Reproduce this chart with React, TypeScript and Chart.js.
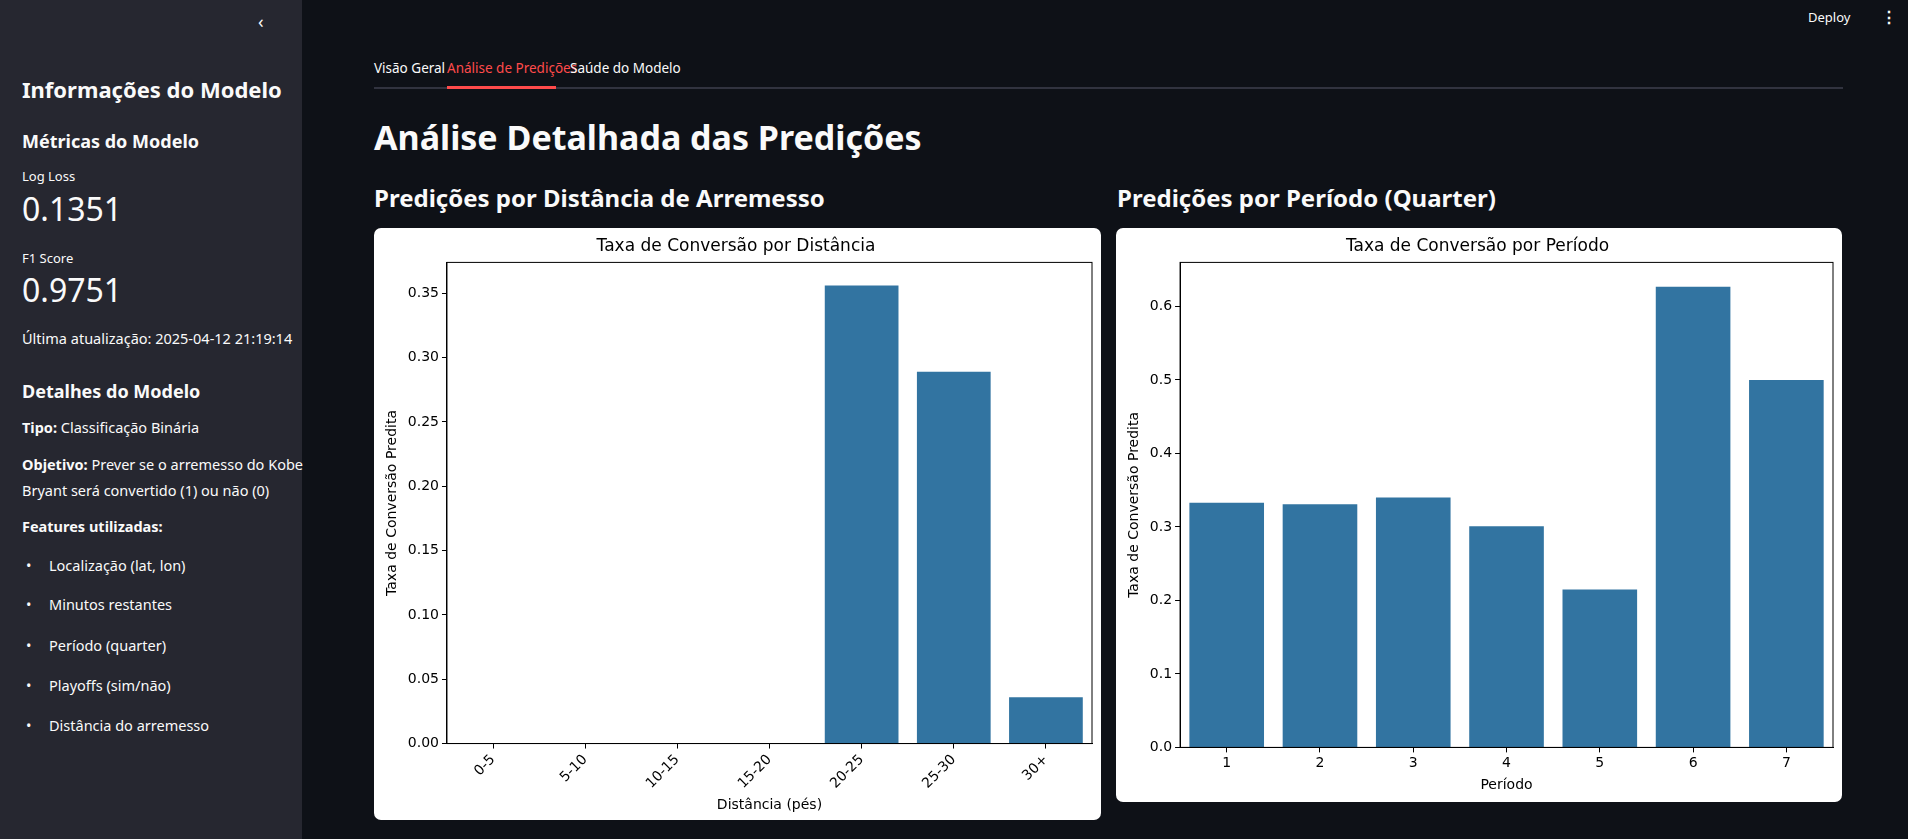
import { useEffect, useRef } from "react";
import Chart, { ChartConfiguration } from "chart.js/auto";

const distLabels = ["0-5", "5-10", "10-15", "15-20", "20-25", "25-30", "30+"];
const distValues = [0, 0, 0, 0, 0.356, 0.289, 0.036];
const periodLabels = ["1", "2", "3", "4", "5", "6", "7"];
const periodValues = [0.333, 0.331, 0.34, 0.301, 0.215, 0.627, 0.5];
const featureList = [
  "Localização (lat, lon)",
  "Minutos restantes",
  "Período (quarter)",
  "Playoffs (sim/não)",
  "Distância do arremesso",
];

const UI = "'Noto Sans', 'Open Sans', sans-serif";
const MPL = "'DejaVu Sans', sans-serif";

// box around the plot area, like matplotlib spines
const spines = {
  id: "spines",
  afterDraw(chart: Chart) {
    const { ctx, chartArea: a } = chart;
    ctx.save();
    ctx.strokeStyle = "#000";
    ctx.lineWidth = 1;
    ctx.strokeRect(a.left, a.top, a.right - a.left, a.bottom - a.top);
    ctx.restore();
  },
};

type BarProps = {
  labels: string[];
  values: number[];
  title: string;
  xTitle: string;
  max: number;
  step: number;
  decimals: number;
  rotate: number;
  pad: { left: number; right: number; top: number; bottom: number };
};

const BarChart = ({ labels, values, title, xTitle, max, step, decimals, rotate, pad }: BarProps) => {
  const chartRef = useRef<HTMLCanvasElement | null>(null);
  const chartInstanceRef = useRef<Chart | null>(null);

  useEffect(() => {
    const ctx = chartRef.current?.getContext("2d");
    if (!ctx) return;
    chartInstanceRef.current = new Chart(ctx, {
      type: "bar",
      data: {
        labels,
        datasets: [
          {
            data: values,
            backgroundColor: "#3274a1",
            barPercentage: 0.8,
            categoryPercentage: 1,
          },
        ],
      },
      options: {
        animation: false,
        responsive: true,
        maintainAspectRatio: false,
        layout: { padding: pad },
        plugins: {
          legend: { display: false },
          tooltip: { enabled: false },
          title: {
            display: true,
            text: title,
            color: "#000",
            font: { family: MPL, size: 17, weight: "normal" },
            padding: { top: 0, bottom: 6 },
          },
        },
        scales: {
          x: {
            grid: { display: true, drawOnChartArea: false, offset: false, color: "#000", tickLength: 5 },
            border: { color: "#000" },
            ticks: {
              color: "#000",
              font: { family: MPL, size: 14 },
              maxRotation: rotate,
              minRotation: rotate,
            },
            title: { display: true, text: xTitle, color: "#000", font: { family: MPL, size: 14 }, padding: 2 },
          },
          y: {
            min: 0,
            max,
            grid: { display: true, drawOnChartArea: false, color: "#000", tickLength: 5 },
            border: { color: "#000" },
            afterBuildTicks: (scale: any) => {
              scale.ticks = scale.ticks.filter(
                (t: any) => Math.abs(t.value / step - Math.round(t.value / step)) < 1e-6
              );
            },
            ticks: {
              stepSize: step,
              color: "#000",
              font: { family: MPL, size: 14 },
              callback: (v: any) => Number(v).toFixed(decimals),
            },
            title: {
              display: true,
              text: "Taxa de Conversão Predita",
              color: "#000",
              font: { family: MPL, size: 14 },
            },
          },
        },
      },
      plugins: [spines],
    } as ChartConfiguration);

    return () => {
      chartInstanceRef.current?.destroy();
      chartInstanceRef.current = null;
    };
  }, []);

  return <canvas ref={chartRef} />;
};

const abs = (left: number, top: number, extra: any = {}): any => ({
  position: "absolute",
  left,
  top,
  lineHeight: 1,
  whiteSpace: "nowrap",
  ...extra,
});

const App = () => {
  const side = (t: number, text: any, size: number, bold = false, left = 22) => (
    <div style={abs(left, t - size / 2, { fontSize: size, fontWeight: bold ? 700 : 400, color: "#fafafa" })}>
      {text}
    </div>
  );
  const bulletTops = [565, 604, 645, 685, 725];

  return (
    <div style={{ position: "fixed", inset: 0, background: "#0e1117", fontFamily: UI, overflow: "hidden" }}>
      <div style={{ position: "absolute", left: 0, top: 0, width: 302, height: "100%", background: "#262730" }}>
        <div style={abs(258, 12, { color: "#fafafa", fontSize: 18 })}>‹</div>
        {side(89, "Informações do Modelo", 22, true)}
        {side(141, "Métricas do Modelo", 18, true)}
        {side(176, "Log Loss", 13)}
        {side(209, "0.1351", 32)}
        {side(258, "F1 Score", 13)}
        {side(290, "0.9751", 32)}
        {side(338, "Última atualização: 2025-04-12 21:19:14", 14.5)}
        {side(391, "Detalhes do Modelo", 18, true)}
        {side(427, <><b>Tipo:</b> Classificação Binária</>, 14.5)}
        {side(464, <><b>Objetivo:</b> Prever se o arremesso do Kobe</>, 14.5)}
        {side(490, "Bryant será convertido (1) ou não (0)", 14.5)}
        {side(526, "Features utilizadas:", 14.5, true)}
        {featureList.map((f, i) => (
          <div key={f}>
            {side(bulletTops[i], "•", 14.5, false, 26)}
            {side(bulletTops[i], f, 14.5, false, 49)}
          </div>
        ))}
      </div>

      <div style={abs(1808, 11, { color: "#fafafa", fontSize: 13 })}>Deploy</div>
      <div style={abs(1881, 9, { color: "#fafafa", fontSize: 16, fontWeight: 700 })}>⋮</div>

      <div style={abs(374, 62, { color: "#fafafa", fontSize: 13.5 })}>Visão Geral</div>
      <div style={abs(447, 62, { color: "#ff4b4b", fontSize: 13.5 })}>Análise de Predições</div>
      <div style={abs(570, 62, { color: "#fafafa", fontSize: 13.5 })}>Saúde do Modelo</div>
      <div style={{ position: "absolute", left: 374, top: 87, width: 1469, height: 2, background: "#31333f" }} />
      <div style={{ position: "absolute", left: 447, top: 86, width: 109, height: 3, background: "#ff4b4b" }} />

      <div style={abs(374, 120, { color: "#fafafa", fontSize: 34, fontWeight: 700 })}>
        Análise Detalhada das Predições
      </div>
      <div style={abs(374, 186, { color: "#fafafa", fontSize: 24, fontWeight: 700 })}>
        Predições por Distância de Arremesso
      </div>
      <div style={abs(1117, 186, { color: "#fafafa", fontSize: 24, fontWeight: 700 })}>
        Predições por Período (Quarter)
      </div>

      <div style={{ position: "absolute", left: 374, top: 228, width: 727, height: 592, background: "#fff", borderRadius: 7 }}>
        <BarChart
          labels={distLabels}
          values={distValues}
          title="Taxa de Conversão por Distância"
          xTitle="Distância (pés)"
          max={0.374}
          step={0.05}
          decimals={2}
          rotate={45}
          pad={{ left: 6, right: 9, top: 8, bottom: 4 }}
        />
      </div>
      <div style={{ position: "absolute", left: 1116, top: 228, width: 726, height: 574, background: "#fff", borderRadius: 7 }}>
        <BarChart
          labels={periodLabels}
          values={periodValues}
          title="Taxa de Conversão por Período"
          xTitle="Período"
          max={0.66}
          step={0.1}
          decimals={1}
          rotate={0}
          pad={{ left: 6, right: 9, top: 8, bottom: 6 }}
        />
      </div>
    </div>
  );
};

export default App;
